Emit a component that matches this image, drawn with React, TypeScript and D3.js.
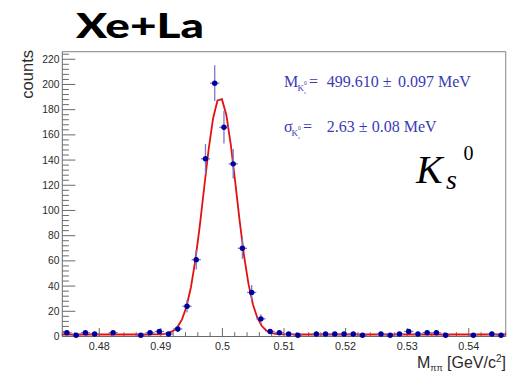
import React from "react";
import * as d3 from "d3";

const W = 509;
const H = 373;

// Histogram binning (GeV)
const binLow = 0.474;
const binHigh = 0.546;
const nBins = 48;

// Entries per bin
const counts = [
  3, 1, 3, 2, 0, 3, 0, 0, 1, 3, 4, 2, 6, 24, 61, 141, 201, 166, 137, 70, 35, 14,
  4, 3, 2, 1, 0, 2, 2, 2, 2, 2, 1, 0, 2, 1, 2, 4, 2, 3, 3, 1, 0, 0, 1, 0, 2, 1,
];

const xTicks = [0.48, 0.49, 0.5, 0.51, 0.52, 0.53, 0.54];
const xTickLabels = ["0.48", "0.49", "0.5", "0.51", "0.52", "0.53", "0.54"];
const yTicks = [0, 20, 40, 60, 80, 100, 120, 140, 160, 180, 200, 220];
const yMax = 226;

// Gaussian + flat background fit (GeV)
const fitMean = 0.49961;
const fitSigma = 0.00263;
const fitAmp = 188;
const fitBkg = 1.6;

const plot = { left: 62.3, right: 505.7, top: 51.7, bottom: 336.5 };

export default function App() {
  const x = d3.scaleLinear().domain([binLow, binHigh]).range([plot.left, plot.right]);
  const y = d3.scaleLinear().domain([0, yMax]).range([plot.bottom, plot.top]);
  const bw = (binHigh - binLow) / nBins;

  const bins = counts.map((c, i) => ({
    lo: binLow + i * bw,
    hi: binLow + (i + 1) * bw,
    mid: binLow + (i + 0.5) * bw,
    c,
    err: Math.sqrt(c),
  }));

  const fit = (m: number) =>
    fitAmp * Math.exp(-0.5 * ((m - fitMean) / fitSigma) ** 2) + fitBkg;
  const npx = 100;
  const fitPts = d3.range(npx + 1).map((k) => {
    const m = binLow + (k / npx) * (binHigh - binLow);
    return [m, fit(m)] as [number, number];
  });
  const line = d3
    .line<[number, number]>()
    .x((d) => x(d[0]))
    .y((d) => y(d[1]))
    .curve(d3.curveLinear);

  const xMinor = d3
    .range(237, 274)
    .filter((k) => k % 5 !== 0)
    .map((k) => k * 0.002);
  const yMinor = d3.range(0, 57).filter((k) => k % 5 !== 0).map((k) => k * 4);

  const axisCol = "#6a6a6a";
  const labelCol = "#2a2a2a";
  const blue = "#3a3ab4";

  return (
    <svg
      width={W}
      height={H}
      viewBox={`0 0 ${W} ${H}`}
      style={{ position: "absolute", left: 0, top: 0, background: "#fff" }}
      fontFamily="'Liberation Sans', Arial, Helvetica, sans-serif"
    >
      {/* title */}
      <text
        x={76}
        y={37.5}
        fontFamily="Lato, 'Open Sans', sans-serif"
        fontWeight={900}
        fontSize={34}
        textLength={128}
        lengthAdjust="spacingAndGlyphs"
        fill="#000"
      >
        Xe+La
      </text>

      {/* frame */}
      <line x1={plot.left} x2={plot.right} y1={plot.top} y2={plot.top} stroke="#9a9a9a" strokeWidth={1.2} />
      <line x1={plot.right} x2={plot.right} y1={plot.top} y2={plot.bottom} stroke="#9a9a9a" strokeWidth={1.2} />

      {/* y axis */}
      <line x1={plot.left} x2={plot.left} y1={plot.top} y2={plot.bottom} stroke={axisCol} strokeWidth={1} />
      {yTicks.map((t) => (
        <g key={"yt" + t}>
          <line x1={plot.left} x2={plot.left + 13} y1={y(t)} y2={y(t)} stroke={axisCol} strokeWidth={1} />
          <text x={59.5} y={y(t)} dy="0.35em" textAnchor="end" fontSize={10.3} fill={labelCol}>
            {t}
          </text>
        </g>
      ))}
      {yMinor.map((t) => (
        <line key={"ym" + t} x1={plot.left} x2={plot.left + 6.6} y1={y(t)} y2={y(t)} stroke={axisCol} strokeWidth={1} />
      ))}
      <text
        transform={`translate(33,50) rotate(-90)`}
        textAnchor="end"
        fontSize={16.5}
        fill={labelCol}
      >
        counts
      </text>

      {/* x axis */}
      <line x1={plot.left} x2={plot.right} y1={plot.bottom} y2={plot.bottom} stroke={axisCol} strokeWidth={1} />
      {xTicks.map((t, i) => (
        <g key={"xt" + t}>
          <line x1={x(t)} x2={x(t)} y1={plot.bottom} y2={plot.bottom - 8.6} stroke={axisCol} strokeWidth={1} />
          <text x={x(t)} y={349.5} textAnchor="middle" fontSize={10.8} fill={labelCol}>
            {xTickLabels[i]}
          </text>
        </g>
      ))}
      {xMinor.map((t) => (
        <line key={"xm" + t} x1={x(t)} x2={x(t)} y1={plot.bottom} y2={plot.bottom - 4.3} stroke={axisCol} strokeWidth={1} />
      ))}
      <text x={506} y={367.5} textAnchor="end" fontSize={16} fill={labelCol}>
        M
        <tspan fontSize={9} dy={3}>ππ</tspan>
        <tspan dy={-3}> [GeV/c</tspan>
        <tspan fontSize={10} dy={-6}>2</tspan>
        <tspan dy={6}>]</tspan>
      </text>

      {/* fit curve */}
      <path d={line(fitPts) ?? ""} fill="none" stroke="#e41010" strokeWidth={1.8} />

      {/* data points with errors */}
      {bins
        .filter((b) => b.c > 0)
        .map((b, i) => (
          <g key={"p" + i}>
            <line x1={x(b.lo)} x2={x(b.hi)} y1={y(b.c)} y2={y(b.c)} stroke="#7878cc" strokeWidth={1.3} />
            <line
              x1={x(b.mid)}
              x2={x(b.mid)}
              y1={y(b.c - b.err)}
              y2={y(Math.min(b.c + b.err, yMax))}
              stroke="#7878cc"
              strokeWidth={1.3}
            />
            <circle cx={x(b.mid)} cy={y(b.c)} r={2.7} fill="#00009c" />
          </g>
        ))}

      {/* fit results */}
      <g fontFamily="'Liberation Serif', 'Times New Roman', serif" fill={blue} fontSize={16}>
        <text x={284} y={86.7}>M</text>
        <text x={297.5} y={90.5} fontSize={9}>K</text>
        <text x={304} y={84.5} fontSize={5.5}>0</text>
        <text x={304} y={93.5} fontSize={4.5}>s</text>
        <text x={309} y={86.7}>=</text>
        <text x={326.7} y={86.7}>499.610 ±</text>
        <text x={398} y={86.7}>0.097 MeV</text>

        <text x={284} y={131.7}>σ</text>
        <text x={291.5} y={135.5} fontSize={9}>K</text>
        <text x={298} y={129.5} fontSize={5.5}>0</text>
        <text x={298} y={138.5} fontSize={4.5}>s</text>
        <text x={303} y={131.7}>=</text>
        <text x={326.7} y={131.7}>2.63 ±</text>
        <text x={371.7} y={131.7}>0.08 MeV</text>
      </g>

      {/* particle label */}
      <g fontFamily="'Liberation Serif', 'DejaVu Serif', serif" fill="#000">
        <text x={416} y={182.5} fontSize={40} fontStyle="italic">K</text>
        <text x={446} y={189} fontSize={28} fontStyle="italic">s</text>
        <text x={463.5} y={159.5} fontSize={20}>0</text>
      </g>
    </svg>
  );
}
